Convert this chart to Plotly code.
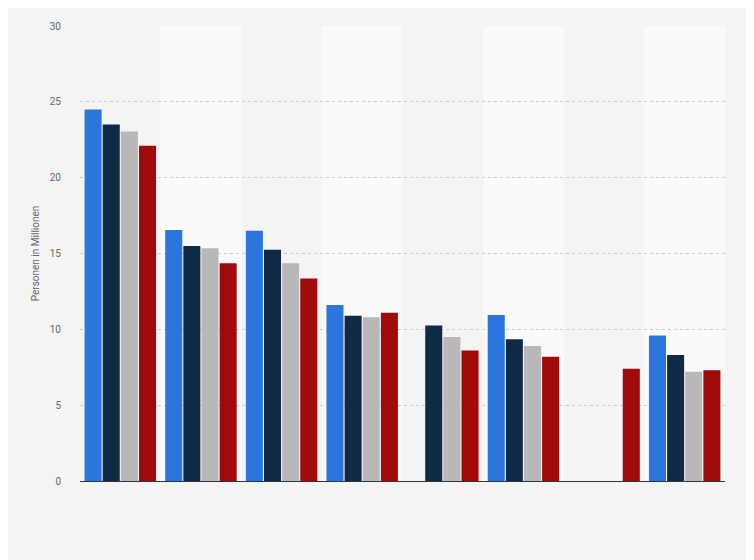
import plotly.graph_objects as go

categories = ["1", "2", "3", "4", "5", "6", "7", "8"]
series_names = ["Serie 1", "Serie 2", "Serie 3", "Serie 4"]
s1 = [24.5, 16.55, 16.5, 11.6, None, 10.95, None, 9.6]
s2 = [23.5, 15.5, 15.25, 10.9, 10.25, 9.35, None, 8.3]
s3 = [23.05, 15.35, 14.35, 10.8, 9.5, 8.9, None, 7.2]
s4 = [22.1, 14.35, 13.35, 11.1, 8.6, 8.2, 7.4, 7.3]
colors = ["#2a76dd", "#0f2a44", "#b8b8b8", "#a10a0a"]

fig = go.Figure()
for name, vals, c in zip(series_names, [s1, s2, s3, s4], colors):
    fig.add_trace(go.Bar(x=list(range(len(categories))), y=vals, name=name,
                         marker_color=c, marker_line_width=0))

shapes = []
for i in range(1, len(categories), 2):
    shapes.append(dict(type="rect", xref="x", yref="paper", x0=i - 0.5, x1=i + 0.5,
                       y0=0, y1=1, fillcolor="#fafafa", line_width=0, layer="below"))

fig.update_layout(
    width=754, height=560, paper_bgcolor="#f4f4f4", plot_bgcolor="#f4f4f4",
    margin=dict(l=72, r=37, t=12, b=87), showlegend=False,
    barmode="group", bargap=0.1, bargroupgap=0.06, shapes=shapes,
    font=dict(family="Roboto, Arial", color="#666666", size=10),
    xaxis=dict(showticklabels=False, showgrid=False, range=[-0.5, 7.5],
               showline=True, linecolor="#333333", linewidth=1, zeroline=False),
    yaxis=dict(range=[0, 30], dtick=5, showgrid=True, gridcolor="#cccccc",
               griddash="dot", zeroline=False, ticks="", ticklabelstandoff=18,
               title=dict(text="Personen in Millionen", font=dict(size=10, color="#666666"), standoff=8)),
)
fig.write_html("out.html")
